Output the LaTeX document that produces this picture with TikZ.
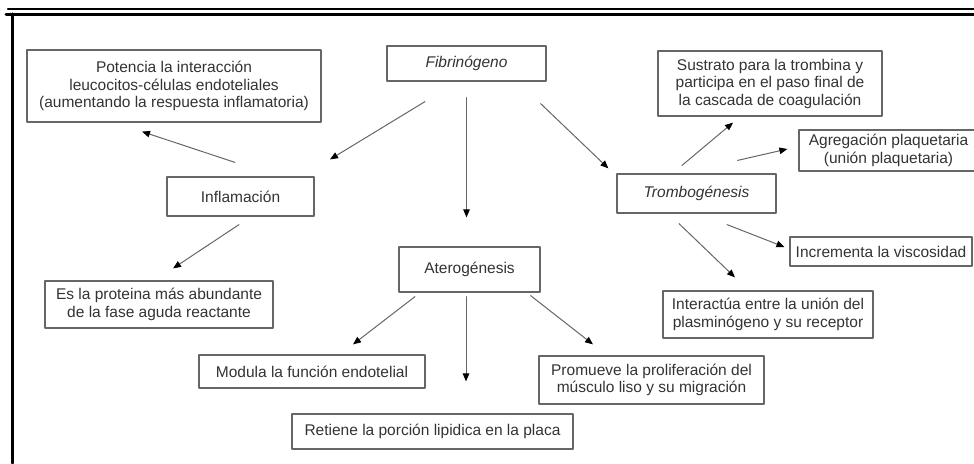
\documentclass[tikz,border=0pt]{standalone}
\usepackage{fontspec}
\setmainfont{Liberation Sans}
\usetikzlibrary{arrows.meta,calc}
\definecolor{txtgray}{HTML}{333333}
\definecolor{linegray}{HTML}{666666}
\begin{document}
\begin{tikzpicture}[
		x=1pt,y=-1pt,
		box/.style={draw=linegray,line width=1.2pt,text=txtgray,align=center,inner sep=0pt,
			font=\fontsize{15.5}{17.5}\selectfont},
		arr/.style={draw=linegray,line width=1pt,-{Triangle[length=8pt,width=6.5pt,color=black]}},
		line cap=round,
		line join=round
		]
		\useasboundingbox (0,0) rectangle (974,463);
		% frame
		\draw[line width=2.5pt] (8,9) -- (974,9);
		\draw[line width=3pt] (6,14) -- (974,14);
		\draw[line width=3.2pt] (12.6,14) -- (12.6,463);
		% nodes
		\node[box,minimum width=159,minimum height=35] (fib) at (466.5,63.5) {\itshape Fibrinógeno};
		\node[box,minimum width=294,minimum height=72] (pot) at (174,86) {Potencia la interacción\\leucocitos-células endoteliales\\(aumentando la respuesta inflamatoria)};
		\node[box,minimum width=147,minimum height=39] (infl) at (240.5,196.5) {Inflamación};
		\node[box,minimum width=228,minimum height=47] (es) at (159,304.5) {Es la proteina más abundante\\de la fase aguda reactante};
		\node[box,minimum width=141,minimum height=45] (ater) at (469.5,269.5) {Aterogénesis};
		\node[box,minimum width=226,minimum height=33] (mod) at (312,371.5) {Modula la función endotelial};
		\node[box,minimum width=281,minimum height=35] (ret) at (432.5,431.5) {Retiene la porción lipidica en la placa};
		\node[box,minimum width=225,minimum height=48] (prom) at (651.5,380) {Promueve la proliferación del\\músculo liso y su migración};
		\node[box,minimum width=159,minimum height=39] (tromb) at (696.5,193.5) {\itshape Trombogénesis};
		\node[box,minimum width=224,minimum height=65] (sus) at (770,83.5) {Sustrato para la trombina y\\participa en el paso final de\\la cascada de coagulación};
		\node[box,minimum width=179,minimum height=41] (agr) at (888.5,150.5) {Agregación plaquetaria\\(unión plaquetaria)};
		\node[box,minimum width=182,minimum height=29] (inc) at (881,251.5) {Incrementa la viscosidad};
		\node[box,minimum width=210,minimum height=47] (inter) at (768,314.5) {Interactúa entre la unión del\\plasminógeno y su receptor};
		% arrows
		\draw[arr] ($(fib.south)+(-41.5,20)$) -- ($(infl.north)+(89.5,-17)$);
		\draw[arr] ($(infl.north)+(-5.5,-14)$) -- ($(pot.south)+(-32,9)$);
		\draw[arr] ($(fib.south)+(0,16)$) -- ($(ater.north)+(-3,-29)$);
		\draw[arr] ($(infl.south)+(-1.5,8)$) -- ($(es.north)+(14,-12)$);
		\draw[arr] ($(fib.south east)+(-6,22)$) -- ($(tromb.north west)+(-8,-5)$);
		\draw[arr] ($(tromb.north)+(-14.5,-8)$) -- ($(sus.south)+(-37,6)$);
		\draw[arr] ($(tromb.north east)+(-39,-13)$) -- ($(agr.west)+(-11,-1.5)$);
		\draw[arr] ($(tromb.south)+(30.5,11)$) -- ($(inc.west)+(-5,-4.5)$);
		\draw[arr] ($(tromb.south)+(-17.5,10)$) -- ($(inter.north)+(-33,-13)$);
		\draw[arr] ($(ater.south)+(-54.5,4)$) -- ($(mod.north)+(41,-10)$);
		\draw[arr] ($(ater.south)+(-3.5,4)$) -- ($(ret.north)+(33.5,-32)$);
		\draw[arr] ($(ater.south east)+(-10,3)$) -- ($(prom.north)+(-58.5,-11)$);
		\end{tikzpicture}
\end{document}
